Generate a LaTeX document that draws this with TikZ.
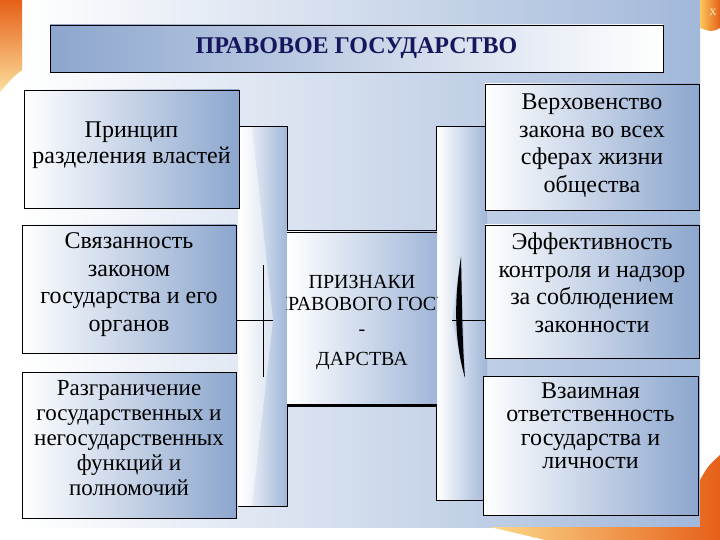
\documentclass[tikz,border=0pt]{standalone}
\usepackage{fontspec}
\setmainfont{Liberation Serif}
\usetikzlibrary{positioning}

\definecolor{boxblue}{RGB}{140,166,206}
\definecolor{backblue}{RGB}{162,184,218}
\definecolor{titleblue}{RGB}{141,166,206}
\definecolor{barblue}{RGB}{160,182,216}
\definecolor{navy}{RGB}{22,22,92}
\definecolor{swoosh}{RGB}{230,96,24}
\definecolor{glow}{RGB}{250,200,90}

\tikzset{
  sign/.style={draw=black, line width=0.7pt, left color=white, right color=boxblue,
    align=center, inner sep=0pt, text=black},
  signfont/.style={font=\fontsize{24}{27.5}\selectfont},
  bar/.style={left color=white, right color=barblue, inner sep=0pt},
  rim/.style={black, line width=0.7pt},
}

\begin{document}
\begin{tikzpicture}[x=1pt,y=-1pt]
\useasboundingbox (0,0) rectangle (720,540);
% slide background
\fill[white] (0,0) rectangle (720,540);
\shade[left color=white, right color=backblue] (22,0) rectangle (700,527);
\shade[top color=swoosh, bottom color=glow!60!white] (0,0) -- (22,0) -- (22,70) .. controls (12,78) .. (0,92) -- cycle;
\shade[left color=glow, right color=swoosh] (700,0) -- (720,0) -- (720,28) .. controls (712,32) .. (700,28) -- cycle;
\node[text=glow!40!white, font=\fontsize{14}{14}\selectfont] (closex) at (713,12) {x};
\shade[left color=glow!70!white, right color=swoosh] (490,527) -- (700,527) -- (700,480) .. controls (708,466) .. (720,455) -- (720,540) -- (545,540) .. controls (520,534) .. cycle;

% title
\node[draw=black, line width=0.7pt, left color=titleblue, right color=white,
  minimum width=613pt, minimum height=47pt, inner sep=0pt] (title) at (356.5,48.5)
  {\fontsize{24}{26}\selectfont\bfseries\color{navy}ПРАВОВОЕ ГОСУДАРСТВО};

% side bars
\node[bar, minimum width=49pt, minimum height=379pt] (lbar) at (262.5,316.5) {};
\shade[left color=white, right color=white!60!barblue] (240,127) -- (252,127) -- (273,320) -- (252,506) -- (240,506) -- cycle;
\draw[rim] (lbar.north west) -- (lbar.north east) -- (lbar.south east) -- (lbar.south west);
\node[bar, minimum width=50pt, minimum height=373pt] (rbar) at (462,313.5) {};
\shade[left color=white!50!barblue, right color=barblue] (461,257) -- (452,320) -- (465,378) -- cycle;
\draw[rim] (rbar.north east) -- (rbar.north west) -- (rbar.south west) -- (rbar.south east);

% core
\node[bar, minimum width=150pt, minimum height=175pt] (core) at (362,318) {};
\draw[rim] (core.north west) -- (core.north east);
\draw[rim] ([yshift=-2.5pt]core.north west) -- ([yshift=-2.5pt]core.north east);
\draw[black, line width=3pt] (core.south west) -- (core.south east);
\begin{scope}
\clip (core.north west) rectangle (core.south east);
\node[align=center, font=\fontsize{20}{22}\selectfont] (coretext) at (362,323)
  {ПРИЗНАКИ\\ПРАВОВОГО ГОСУ\\[3pt]-\\[8pt]ДАРСТВА};
\end{scope}

% left column
\node[sign, signfont, minimum width=215pt, minimum height=118pt, text depth=12pt,
  font=\fontsize{24}{26}\selectfont] (pa) at (131.5,149)
  {Принцип\\разделения властей};
\node[sign, signfont, minimum width=214pt, minimum height=128pt, text depth=14pt] (pb) at (129,289)
  {Связанность\\законом\\государства и его\\органов};
\node[sign, minimum width=214pt, minimum height=146pt, text depth=14pt,
  font=\fontsize{23}{25}\selectfont] (pc) at (129,445)
  {Разграничение\\государственных и\\негосударственных\\функций и\\полномочий};

% right column
\node[sign, signfont, minimum width=214pt, minimum height=126pt, text depth=8pt] (pd) at (592,147)
  {Верховенство\\закона во всех\\сферах жизни\\общества};
\node[sign, signfont, minimum width=214pt, minimum height=133pt, text depth=18pt] (pe) at (592,291.5)
  {Эффективность\\контроля и надзор\\за соблюдением\\законности};
\node[sign, minimum width=215pt, minimum height=139pt, text depth=40pt,
  font=\fontsize{24}{23.5}\selectfont] (pf) at (590.5,445.5)
  {Взаимная\\ответственность\\государства и\\личности};

% ties
\coordinate (ltip) at (273,320);
\coordinate (rtip) at (452,320);
\draw[rim] (263,265) -- (263,377);
\draw[rim] (pb.east |- ltip) -- (ltip);
\fill[black] (461,257) .. controls (454,300) and (454,340) .. (465,378) .. controls (462,340) and (462,300) .. cycle;
\draw[rim] (rtip) -- (pe.west |- rtip);
\end{tikzpicture}
\end{document}
